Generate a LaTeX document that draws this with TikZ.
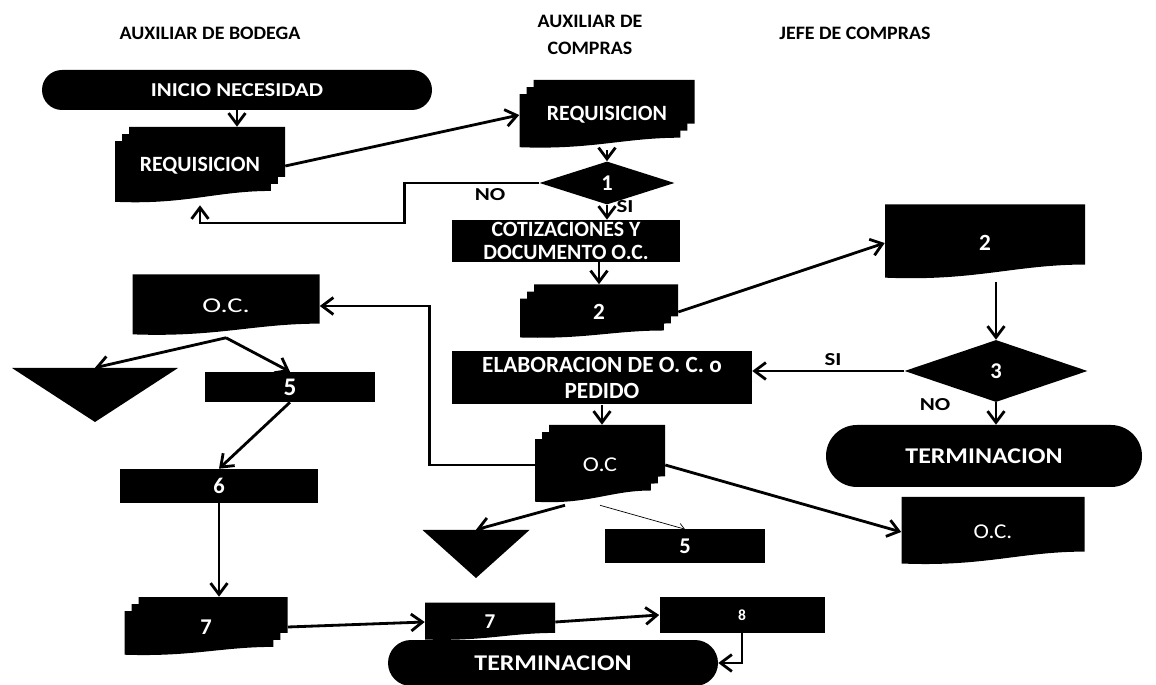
\documentclass[tikz,border=0pt]{standalone}
\usepackage{fontspec}
\setmainfont{Carlito}
\usepackage{xcolor}
\usetikzlibrary{arrows.meta, shapes.geometric, shapes.misc, calc}
\definecolor{ink}{RGB}{0,0,0}

% corners of the box a path picture fills
\newcommand{\getbb}{%
  \pgfpointanchor{path picture bounding box}{south west}\pgfgetlastxy{\pxa}{\pya}%
  \pgfpointanchor{path picture bounding box}{north east}\pgfgetlastxy{\pxb}{\pyb}}
% one document page, wavy bottom
\newcommand{\docfill}[4]{%
  \fill[ink] ({#1},{#4}) -- ({#3},{#4}) -- ({#3},{(#2)+0.22*((#4)-(#2))})
    .. controls ({(#3)-0.35*((#3)-(#1))},{(#2)+0.22*((#4)-(#2))}) and ({(#1)+0.45*((#3)-(#1))},{#2}) .. ({#1},{(#2)+0.05*((#4)-(#2))}) -- cycle;}

\begin{document}
\begin{tikzpicture}[
  x=0.025cm, y=0.025cm,
  wh/.style 2 args={minimum width=#1*0.025cm, minimum height=#2*0.025cm},
  fz/.style 2 args={font=\fontsize{#1}{#2}\selectfont\bfseries},
  fs/.style n args={3}{font=\fontsize{#1}{#2}\selectfont\bfseries\addfontfeature{FakeStretch=#3}},
  fl/.style={font=\fontsize{15}{18}\selectfont\addfontfeature{FakeStretch=#1}},
  hdr/.style={fs={13.5}{19}{1.05}, align=center},
  shp/.style={text=white, fz={15.5}{18}, align=center, inner sep=0pt},
  num/.style={fz={16}{19}},
  term/.style={shp, rounded rectangle, fill=ink},
  box/.style={shp, rectangle, fill=ink},
  dec/.style={shp, diamond, fill=ink},
  doc/.style={shp, rectangle, path picture={\getbb\docfill{\pxa}{\pya}{\pxb}{\pyb}}},
  mdoc/.style={shp, rectangle, path picture={\getbb
    \docfill{\pxa+10pt}{\pya+10pt}{\pxb}{\pyb}%
    \docfill{\pxa+5pt}{\pya+5pt}{\pxb-5pt}{\pyb-5pt}%
    \docfill{\pxa}{\pya}{\pxb-10pt}{\pyb-10pt}}},
  tri/.style={rectangle, inner sep=0pt, path picture={\getbb
    \fill[ink] (\pxa,\pyb) -- (\pxb,\pyb) -- ({(\pxa+\pxb)/2},\pya) -- cycle;}},
  arr/.style={-{Straight Barb[length=8pt,width=12pt]}, line width=2pt, color=ink},
  thinarr/.style={-{Straight Barb[length=4pt,width=6pt]}, line width=0.5pt, color=ink},
  lbl/.style={fs={13}{15}{1.25}},
]
  \useasboundingbox (0,0) rectangle (1156,684);

  % lanes
  \node[hdr] (hBod) at (210,651) {AUXILIAR DE BODEGA};
  \node[hdr] (hAux) at (590,649) {AUXILIAR DE\\COMPRAS};
  \node[hdr] (hJefe) at (855,651) {JEFE DE COMPRAS};

  \node[term, fs={14}{16}{1.15}, wh={390}{40}] (inicio) at (237,594) {INICIO NECESIDAD};
  \node[mdoc, wh={170}{78}] (req1) at (200,518) {REQUISICION};
  \node[mdoc, wh={175}{70}] (req2) at (607,569) {REQUISICION};
  \node[dec, num, wh={135}{43}] (d1) at (607,501) {1};
  \node[box, fz={15.5}{16}, wh={228}{42}] (cot) at (566,443) {COTIZACIONES Y\\DOCUMENTO O.C.};
  \node[mdoc, fz={16.5}{19}, wh={158}{55}] (doc2a) at (599,372) {2};
  \node[doc, fz={16.5}{19}, wh={200}{77}] (doc2b) at (985,441) {2};
  \node[dec, num, wh={183}{62}] (d3) at (996,313) {3};
  \node[box, fz={16.5}{18}, wh={300}{53}] (elab) at (602,306) {ELABORACION DE O. C. o\\PEDIDO};
  \node[term, fs={16}{18}{1.15}, wh={316}{62}] (fin1) at (984,228) {TERMINACION};
  \node[mdoc, fl=1.15, wh={130}{80}] (oc1) at (600,219) {O.C};
  \node[doc, fl=1.1, wh={183}{70}] (ocJ) at (993,152) {O.C.};
  \node[doc, fl=1.35, wh={187}{63}] (ocB) at (226,378) {O.C.};
  \node[tri, wh={166}{54}] (triB) at (95,289) {};
  \node[box, fz={18}{20}, wh={170}{30}] (cinco1) at (290,297) {5};
  \node[box, num, wh={198}{34}] (seis) at (219,198) {6};
  \node[mdoc, num, wh={163}{60}] (siete1) at (206,57) {7};
  \node[tri, wh={107}{48}] (triC) at (476,130) {};
  \node[box, num, wh={160}{33}] (cinco2) at (685,138) {5};
  \node[doc, fz={15}{18}, wh={130}{39}] (siete2) at (490,62) {7};
  \node[box, fz={11}{13}, wh={165}{36}] (ocho) at (742,69) {8};
  \node[term, fs={16}{18}{1.15}, wh={330}{46}] (fin2) at (553,21) {TERMINACION};

  \node[lbl] (no1) at (490,489) {NO};
  \node[lbl] (si1) at (625,477) {SI};
  \node[lbl] (si3) at (833,324) {SI};
  \node[lbl] (no3) at (935,279) {NO};

  \draw[arr] (inicio.south) -- (inicio.south |- req1.north);
  \draw[arr] (req1.east) -- (req2.west);
  \draw[arr] (req2.south) -- (d1.north);
  \draw[arr] (d1.west) -- ++(-135,0) -- ++(0,-40) -| (req1.south);
  \draw[arr] (d1.south) -- (d1.south |- cot.north);
  \draw[arr] (doc2a.north |- cot.south) -- (doc2a.north);
  \draw[arr] (doc2a.east) -- (doc2b.west);
  \draw[arr] (d3.north |- doc2b.south) -- (d3.north);
  \draw[arr] (d3.west) -- (d3.west -| elab.east);
  \draw[arr] (d3.south) -- (d3.south |- fin1.north);
  \draw[arr] (elab.south) -- (elab.south |- oc1.north);
  \draw[arr] (oc1.west) -- ++(-105,0) |- (ocB.east);
  \draw[arr] (oc1.east) -- (ocJ.west);
  \draw[arr] ([xshift=-0.875cm]oc1.south) -- (triC.north);
  \draw[thinarr] (oc1.south) -- (cinco2.north);
  \draw[arr] (ocB.south) -- (triB.north);
  \draw[arr] (ocB.south) -- (cinco1.north);
  \draw[arr] (cinco1.south) -- (seis.north);
  \draw[arr] (seis.south) -- (seis.south |- siete1.north);
  \draw[arr] (siete1.east) -- (siete2.west);
  \draw[arr] (siete2.east) -- (ocho.west);
  \draw[arr] (ocho.south) |- (fin2.east);
\end{tikzpicture}
\end{document}
